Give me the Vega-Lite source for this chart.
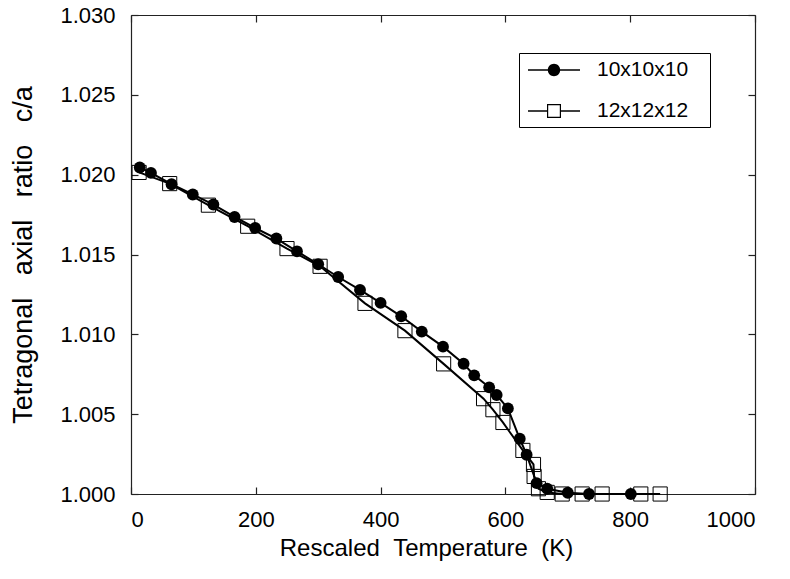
{
  "$schema": "https://vega.github.io/schema/vega-lite/v6.json",
  "autosize": "none",
  "width": 624,
  "height": 479,
  "padding": {"left": 131, "top": 15, "right": 35, "bottom": 85},
  "background": "white",
  "config": {
    "font": "Liberation Sans",
    "view": {"stroke": null},
    "axis": {"grid": false, "domainColor": "#222", "tickColor": "#222", "domainWidth": 1.2, "tickWidth": 1.2, "labelColor": "black", "titleColor": "black", "labelFont": "Liberation Sans", "titleFont": "Liberation Sans", "labelFontSize": 22, "titleFontSize": 24, "titleFontWeight": "normal"},
    "legend": {"orient": "none", "legendX": 388, "legendY": 38, "direction": "vertical",
               "strokeColor": "black", "fillColor": "white", "padding": 6, "symbolSize": 400, "symbolOffset": 18,
               "labelFontSize": 21, "labelFont": "Liberation Sans", "labelColor": "black", "labelOffset": 32, "rowPadding": 20,
               "titleOrient": "right", "titleOpacity": 0, "titleFontSize": 10, "titlePadding": 13}
  },
  "data": {"values": [
    {"T": 14, "ca": 1.02045, "series": "10x10x10"},
    {"T": 32, "ca": 1.02011, "series": "10x10x10"},
    {"T": 65, "ca": 1.0194, "series": "10x10x10"},
    {"T": 99, "ca": 1.01876, "series": "10x10x10"},
    {"T": 132, "ca": 1.01813, "series": "10x10x10"},
    {"T": 166, "ca": 1.01735, "series": "10x10x10"},
    {"T": 199, "ca": 1.01666, "series": "10x10x10"},
    {"T": 233, "ca": 1.016, "series": "10x10x10"},
    {"T": 266, "ca": 1.0152, "series": "10x10x10"},
    {"T": 300, "ca": 1.01439, "series": "10x10x10"},
    {"T": 332, "ca": 1.01359, "series": "10x10x10"},
    {"T": 367, "ca": 1.01278, "series": "10x10x10"},
    {"T": 400, "ca": 1.01197, "series": "10x10x10"},
    {"T": 433, "ca": 1.01113, "series": "10x10x10"},
    {"T": 466, "ca": 1.01017, "series": "10x10x10"},
    {"T": 500, "ca": 1.00923, "series": "10x10x10"},
    {"T": 533, "ca": 1.00816, "series": "10x10x10"},
    {"T": 550, "ca": 1.00743, "series": "10x10x10"},
    {"T": 574, "ca": 1.00668, "series": "10x10x10"},
    {"T": 586, "ca": 1.0062, "series": "10x10x10"},
    {"T": 604, "ca": 1.00536, "series": "10x10x10"},
    {"T": 623, "ca": 1.00346, "series": "10x10x10"},
    {"T": 634, "ca": 1.00246, "series": "10x10x10"},
    {"T": 650, "ca": 1.00068, "series": "10x10x10"},
    {"T": 667, "ca": 1.00033, "series": "10x10x10"},
    {"T": 700, "ca": 1.00008, "series": "10x10x10"},
    {"T": 734, "ca": 1.0, "series": "10x10x10"},
    {"T": 801, "ca": 1.0, "series": "10x10x10"},
    {"T": 13, "ca": 1.02014, "series": "12x12x12"},
    {"T": 62, "ca": 1.01944, "series": "12x12x12"},
    {"T": 124, "ca": 1.01809, "series": "12x12x12"},
    {"T": 187, "ca": 1.01677, "series": "12x12x12"},
    {"T": 250, "ca": 1.01537, "series": "12x12x12"},
    {"T": 303, "ca": 1.01426, "series": "12x12x12"},
    {"T": 375, "ca": 1.01194, "series": "12x12x12"},
    {"T": 439, "ca": 1.01023, "series": "12x12x12"},
    {"T": 501, "ca": 1.00815, "series": "12x12x12"},
    {"T": 565, "ca": 1.00597, "series": "12x12x12"},
    {"T": 580, "ca": 1.00528, "series": "12x12x12"},
    {"T": 596, "ca": 1.00448, "series": "12x12x12"},
    {"T": 628, "ca": 1.00273, "series": "12x12x12"},
    {"T": 645, "ca": 1.00185, "series": "12x12x12"},
    {"T": 646, "ca": 1.0011, "series": "12x12x12"},
    {"T": 653, "ca": 1.00033, "series": "12x12x12"},
    {"T": 667, "ca": 1.0001, "series": "12x12x12"},
    {"T": 691, "ca": 1.0, "series": "12x12x12"},
    {"T": 723, "ca": 1.0, "series": "12x12x12"},
    {"T": 755, "ca": 1.0, "series": "12x12x12"},
    {"T": 817, "ca": 1.0, "series": "12x12x12"},
    {"T": 848, "ca": 1.0, "series": "12x12x12"}
  ]},
  "resolve": {"axis": {"x": "independent", "y": "independent"}},
  "layer": [
    {
      "mark": {"type": "line", "color": "black", "strokeWidth": 2, "clip": false},
      "encoding": {
        "x": {"field": "T", "type": "quantitative", "scale": {"domain": [0, 1000], "nice": false},
              "axis": {"title": "Rescaled\u00a0\u00a0Temperature\u00a0\u00a0(K)", "values": [0, 200, 400, 600, 800, 1000], "format": "d", "tickSize": -7, "labelPadding": 22, "titlePadding": 6, "titleX": 295}},
        "y": {"field": "ca", "type": "quantitative", "scale": {"domain": [1.0, 1.03], "nice": false, "zero": false},
              "axis": {"title": "Tetragonal\u00a0\u00a0\u00a0axial\u00a0\u00a0\u00a0ratio\u00a0\u00a0\u00a0c/a", "titleFontSize": 27, "values": [1.0, 1.005, 1.01, 1.015, 1.02, 1.025, 1.03], "format": ".3f", "tickSize": -7, "labelPadding": 23, "titlePadding": 22}},
        "detail": {"field": "series"},
        "order": {"field": "T", "type": "quantitative"}
      }
    },
    {
      "transform": [{"filter": "datum.series === '12x12x12'"}],
      "mark": {"type": "point", "shape": "square", "filled": false, "stroke": "black", "strokeWidth": 1, "size": 200, "opacity": 1, "clip": false},
      "encoding": {
        "x": {"field": "T", "type": "quantitative", "axis": null},
        "y": {"field": "ca", "type": "quantitative", "axis": null}
      }
    },
    {
      "transform": [{"filter": "datum.series === '10x10x10'"}],
      "mark": {"type": "point", "shape": "circle", "filled": true, "color": "black", "size": 140, "opacity": 1, "clip": false},
      "encoding": {
        "x": {"field": "T", "type": "quantitative", "axis": {"orient": "top", "labels": false, "title": null, "values": [0, 200, 400, 600, 800, 1000], "tickSize": -7}},
        "y": {"field": "ca", "type": "quantitative", "axis": {"orient": "right", "labels": false, "title": null, "values": [1.0, 1.005, 1.01, 1.015, 1.02, 1.025, 1.03], "tickSize": -7}}
      }
    },
    {
      "transform": [{"filter": "false"}],
      "mark": {"type": "point", "filled": true, "color": "black", "opacity": 1},
      "encoding": {
        "x": {"field": "T", "type": "quantitative", "axis": null},
        "y": {"field": "ca", "type": "quantitative", "axis": null},
        "shape": {"field": "series", "type": "nominal",
                  "scale": {"domain": ["10x10x10", "12x12x12"],
                            "range": ["M-2.6,-0.08H2.6V0.08H-2.6ZM0.62,0A0.62,0.62,0,1,1,-0.62,0A0.62,0.62,0,1,1,0.62,0Z",
                                      "M-2.6,-0.08H-0.65V0.08H-2.6ZM0.65,-0.08H2.6V0.08H0.65ZM-0.7,-0.7H0.7V0.7H-0.7ZM-0.58,-0.58V0.58H0.58V-0.58Z"]},
                  "legend": {"title": "."}}
      }
    }
  ]
}
